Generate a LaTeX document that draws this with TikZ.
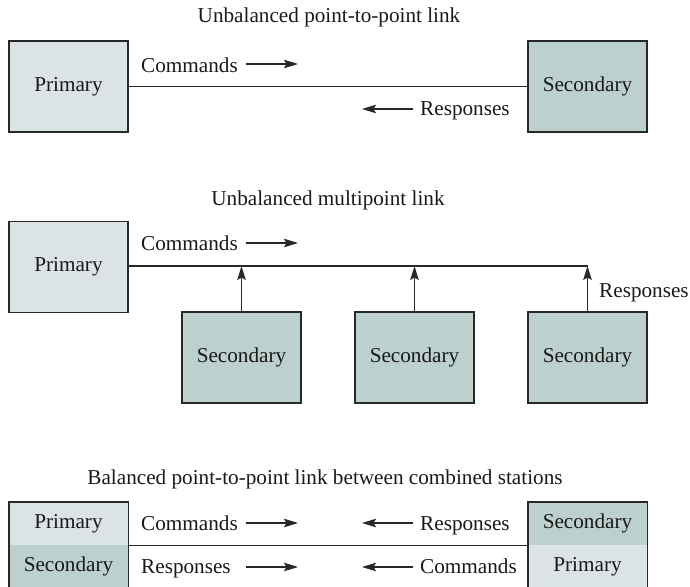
\documentclass[tikz,border=0pt]{standalone}
\usepackage{fontspec}
\setmainfont{Liberation Serif}
\usetikzlibrary{arrows.meta}
\definecolor{primfill}{RGB}{220,227,230}
\definecolor{secfill}{RGB}{188,208,205}
\definecolor{edge}{RGB}{40,40,40}
\begin{document}
\begin{tikzpicture}[x=1pt,y=-1pt,
  every node/.style={font=\fontsize{21.2}{25}\selectfont, text=black!90},
  station/.style={draw=edge, line width=1.4pt, minimum width=119pt, minimum height=91pt, inner sep=0pt},
  halfst/.style={minimum width=119pt, minimum height=43pt, inner sep=0pt},
  prim/.style={fill=primfill},
  sec/.style={fill=secfill},
  wire/.style={draw=edge, line width=1.3pt},
  flow/.style={draw=edge, line width=1.3pt, -{Stealth[length=14pt,width=8.5pt,inset=2.5pt]}},
  lbl/.style={inner sep=0pt, anchor=base west},
  ttl/.style={inner sep=0pt, anchor=base}]
\clip (0,0) rectangle (690,586);
% ---------- top: unbalanced point-to-point
\node[ttl] (t1) at (329,23) {Unbalanced point-to-point link};
\node[station,prim] (p1) at (68.5,86.5) {Primary};
\node[station,sec] (s1) at (587.5,86.5) {Secondary};
\draw[wire] (p1.east) -- (s1.west);
\node[lbl] (c1) at (141,72) {Commands};
\coordinate (c1a) at (246,64);
\coordinate (c1b) at (298,64);
\draw[flow] (c1a) -- (c1b);
\node[lbl] (r1) at (420,115) {Responses};
\coordinate (r1a) at (413,109);
\coordinate (r1b) at (362,109);
\draw[flow] (r1a) -- (r1b);
% ---------- middle: unbalanced multipoint
\node[ttl] (t2) at (328,205) {Unbalanced multipoint link};
\node[station,prim] (p2) at (68.5,267) {Primary};
\node[station,sec] (s2a) at (241.5,357.5) {Secondary};
\node[station,sec] (s2b) at (414.5,357.5) {Secondary};
\node[station,sec] (s2c) at (587.5,357.5) {Secondary};
\coordinate (bend) at (587.5,266);
\draw[wire] (p2.east |- bend) -- (bend);
\draw[flow] (s2a.north) -- (s2a.north |- bend);
\draw[flow] (s2b.north) -- (s2b.north |- bend);
\draw[flow] (s2c.north) -- (bend);
\node[lbl] (c2) at (141,250) {Commands};
\coordinate (c2a) at (246,243);
\coordinate (c2b) at (298,243);
\draw[flow] (c2a) -- (c2b);
\node[lbl] (r2) at (599,297) {Responses};
% ---------- bottom: balanced
\node[ttl] (t3) at (325,484) {Balanced point-to-point link between combined stations};
\node[halfst,prim] (lp) at (68.5,523.5) {Primary};
\node[halfst,sec] (ls) at (68.5,566.5) {Secondary};
\node[halfst,sec] (rs) at (587.5,523.5) {Secondary};
\node[halfst,prim] (rp) at (587.5,566.5) {Primary};
\draw[draw=edge, line width=1.4pt] (lp.north west) rectangle (ls.south east);
\draw[draw=edge, line width=1.4pt] (rs.north west) rectangle (rp.south east);
\draw[wire] (lp.south east) -- (rs.south west);
\node[lbl] (c3) at (141,530) {Commands};
\coordinate (c3a) at (246,523);
\coordinate (c3b) at (298,523);
\draw[flow] (c3a) -- (c3b);
\node[lbl] (r3) at (141,573) {Responses};
\coordinate (r3a) at (246,567);
\coordinate (r3b) at (298,567);
\draw[flow] (r3a) -- (r3b);
\node[lbl] (r4) at (420,530) {Responses};
\coordinate (r4a) at (413,523);
\coordinate (r4b) at (362,523);
\draw[flow] (r4a) -- (r4b);
\node[lbl] (c4) at (420,573) {Commands};
\coordinate (c4a) at (413,567);
\coordinate (c4b) at (362,567);
\draw[flow] (c4a) -- (c4b);
\end{tikzpicture}
\end{document}
